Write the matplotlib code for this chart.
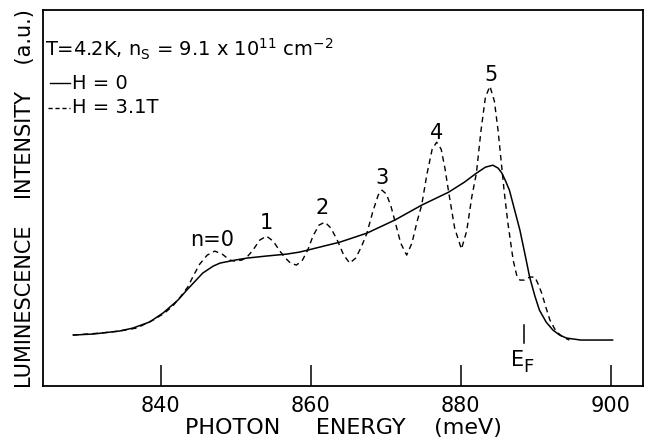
import numpy as np
import matplotlib
matplotlib.use("Agg")
import matplotlib.pyplot as plt

# H = 0 curve (photon energy meV, intensity a.u.)
e_h0 = [828.3, 831.0, 834.5, 836.3, 838.5, 840.3, 842.3, 843.6, 845.6, 847.0,
        847.9, 849.9, 851.5, 854.0, 856.8, 858.5, 859.6, 861.2, 863.9, 867.5,
        871.2, 874.8, 878.4, 880.5, 882.1, 883.3, 884.3, 885.0, 885.5, 886.0,
        886.5, 887.2, 887.9, 888.6, 889.2, 889.9, 890.5, 891.4, 892.3, 893.2,
        894.1, 896.0, 900.3]
i_h0 = [51, 52, 55, 58, 64, 73, 86, 97, 113, 120,
        123, 126, 128, 130, 132, 134, 136, 139, 144, 153,
        166, 181, 194, 204, 213, 219, 221, 218, 213, 205,
        196, 176, 156, 131, 109, 90, 76, 64, 56, 51,
        48, 46, 46]

# H = 3.1T curve
e_h31 = [828.3, 832.0, 834.5, 836.8, 839.0, 840.5, 841.6, 842.6, 843.6, 844.4,
         845.2, 846.2, 847.2, 848.2, 849.2, 849.9, 850.8, 851.5, 852.3, 853.2,
         854.1, 855.0, 855.8, 856.5, 857.3, 858.1, 858.9, 859.6, 860.3, 861.1,
         861.9, 862.7, 863.6, 864.4, 865.2, 866.0, 866.8, 867.5, 868.3, 869.0,
         869.5, 870.1, 870.7, 871.2, 872.0, 872.8, 873.5, 874.2, 874.8, 875.5,
         876.2, 876.8, 877.4, 877.9, 878.4, 879.2, 880.1, 880.8, 881.5, 882.1,
         882.7, 883.3, 883.9, 884.5, 885.0, 885.4, 885.8, 886.3, 887.0, 887.5,
         887.9, 888.5, 889.2, 889.9, 890.4, 890.8, 891.4, 891.9, 892.7, 893.6,
         894.5]
i_h31 = [51, 53, 55, 58, 66, 73, 80, 89, 99, 111,
         122, 131, 135, 132, 126, 125, 126, 129, 136, 146,
         150, 145, 136, 129, 123, 121, 126, 136, 150, 161,
         164, 158, 145, 131, 123, 128, 140, 153, 175, 191,
         196, 192, 180, 166, 143, 131, 143, 165, 181, 212,
         237, 244, 237, 218, 194, 158, 137, 155, 190, 213,
         255, 289, 300, 285, 255, 225, 195, 163, 126, 110,
         106, 106, 109, 109, 101, 93, 78, 66, 55, 49,
         46]

peak_labels = ["n=0", "1", "2", "3", "4", "5"]
peak_e = [846.9, 854.1, 861.5, 869.5, 876.8, 884.0]
peak_i = [146, 163, 178, 208, 253, 311]
e_fermi = 888.5

xticks = [840, 860, 880, 900]

fig = plt.figure(figsize=(6.45, 4.42), dpi=100)
ax = fig.add_axes([0.0667, 0.1267, 0.930, 0.850])

ax.plot(e_h0, i_h0, color="black", lw=1.1, solid_capstyle="round")
ax.plot(e_h31, i_h31, color="black", lw=1.0, ls=(0, (4, 3)))

for lab, x, y in zip(peak_labels, peak_e, peak_i):
    ax.text(x, y, lab, ha="center", va="center", fontsize=15)

ax.plot([e_fermi, e_fermi], [43, 61], color="black", lw=1.1)
ax.text(e_fermi - 0.9, 26, "E", ha="center", va="center", fontsize=15)
ax.text(e_fermi + 0.5, 19, "F", ha="center", va="center", fontsize=13)

ax.text(0.004, 0.895, r"T=4.2K, n$_{\mathregular{S}}$ = 9.1 x 10$^{\mathregular{11}}$ cm$^{\mathregular{-2}}$",
        transform=ax.transAxes, fontsize=14, va="center", ha="left")
ax.plot([0.012, 0.045], [0.806, 0.806], transform=ax.transAxes, color="black", lw=1.0)
ax.text(0.048, 0.806, "H = 0", transform=ax.transAxes, fontsize=14, va="center")
ax.plot([0.008, 0.045], [0.74, 0.74], transform=ax.transAxes, color="black", lw=1.0, ls=(0, (3, 2)))
ax.text(0.048, 0.74, "H = 3.1T", transform=ax.transAxes, fontsize=14, va="center")

ax.set_xlim(824.3, 904.3)
ax.set_ylim(0, 376)
ax.set_xticks(xticks)
ax.set_yticks([])
ax.tick_params(axis="x", direction="in", length=15, width=1.1, labelsize=15, pad=7)
for s in ax.spines.values():
    s.set_linewidth(1.3)

ax.set_xlabel("PHOTON     ENERGY    (meV)", fontsize=16, labelpad=2)
ax.set_ylabel("LUMINESCENCE    INTENSITY    (a.u.)", fontsize=15, labelpad=6)

fig.savefig("out.png", dpi=100)
